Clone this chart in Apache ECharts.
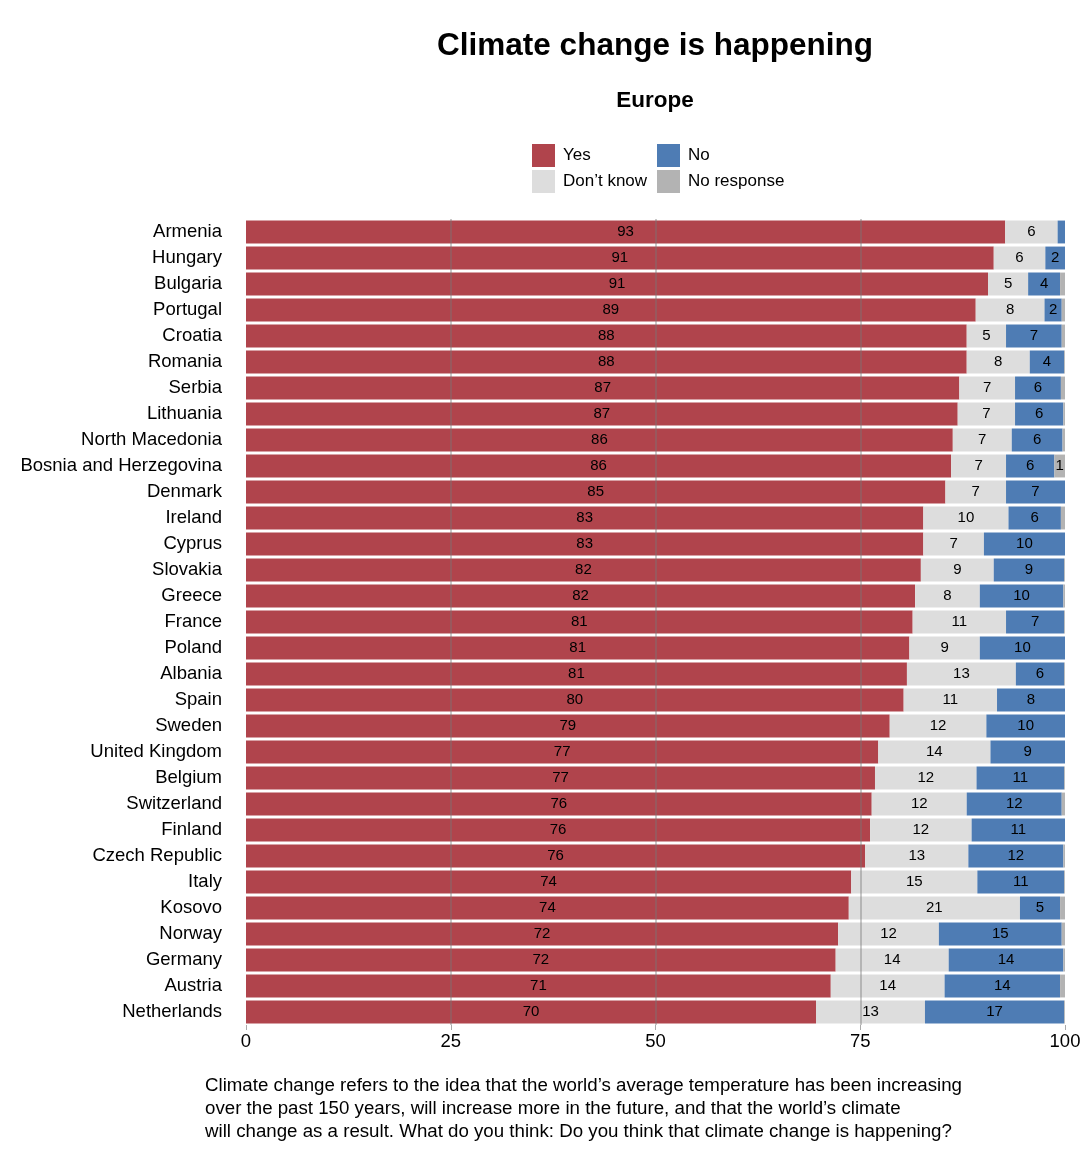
<!DOCTYPE html>
<html>
<head>
<meta charset="utf-8">
<script src="https://cdn.jsdelivr.net/npm/echarts@6/dist/echarts.min.js"></script>
<style>html,body{margin:0;padding:0;background:#fff;}#c{width:1086px;height:1160px;}</style>
</head>
<body>
<div id="c"></div>
<script>
const countries = ["Armenia","Hungary","Bulgaria","Portugal","Croatia","Romania","Serbia","Lithuania","North Macedonia","Bosnia and Herzegovina","Denmark","Ireland","Cyprus","Slovakia","Greece","France","Poland","Albania","Spain","Sweden","United Kingdom","Belgium","Switzerland","Finland","Czech Republic","Italy","Kosovo","Norway","Germany","Austria","Netherlands"];
const yes = [92.7,91.3,90.6,89.1,88.0,88.0,87.1,86.9,86.3,86.1,85.4,82.7,82.7,82.4,81.7,81.4,81.0,80.7,80.3,78.6,77.2,76.8,76.4,76.2,75.6,73.9,73.6,72.3,72.0,71.4,69.6];
const dontKnow = [6.4,6.3,4.9,8.4,4.8,7.7,6.8,7.0,7.2,6.7,7.4,10.4,7.4,8.9,7.9,11.4,8.6,13.3,11.4,11.8,13.7,12.4,11.6,12.4,12.6,15.4,20.9,12.3,13.8,13.9,13.3];
const no = [0.9,2.4,3.9,2.1,6.8,4.2,5.6,5.9,6.2,5.9,7.2,6.4,9.9,8.6,10.2,7.1,10.4,5.9,8.3,9.6,9.1,10.7,11.6,11.4,11.6,10.6,4.9,15.0,14.0,14.1,17.0];
const noResponse = [0,0,0.6,0.4,0.4,0.1,0.5,0.2,0.3,1.3,0,0.5,0,0.1,0.2,0.1,0,0.1,0,0,0,0.1,0.4,0,0.2,0.1,0.6,0.4,0.2,0.6,0.1];
const xTicks = [0,25,50,75,100];
const footnote = [
  "Climate change refers to the idea that the world\u2019s average temperature has been increasing",
  "over the past 150 years, will increase more in the future, and that the world\u2019s climate",
  "will change as a result. What do you think: Do you think that climate change is happening?"
];

const FONT = "'Liberation Sans', Arial, Helvetica, sans-serif";
const chart = echarts.init(document.getElementById('c'), null, {renderer:'canvas'});

function mkSeries(name, data, color, extra) {
  return Object.assign({
    name: name,
    type: 'bar',
    stack: 'total',
    data: data,
    barCategoryGap: '12%',
    itemStyle: {color: color},
    emphasis: {disabled: true},
    label: {
      show: true,
      position: 'inside',
      color: '#000',
      fontSize: 15,
      fontFamily: FONT,
      formatter: p => (p.value >= 1 ? String(Math.round(p.value)) : '')
    }
  }, extra || {});
}

const option = {
  animation: false,
  textStyle: {fontFamily: FONT},
  grid: {left: 246, right: 21, top: 219, bottom: 135, containLabel: false},
  legend: [
    {data: ['Yes', 'Don\u2019t know'], orient: 'vertical', left: 527, top: 139, itemGap: 3,
     itemWidth: 23, itemHeight: 23, icon: 'rect', selectedMode: false,
     textStyle: {fontSize: 17, color: '#000', fontFamily: FONT, padding: [2, 0, 0, 3]}},
    {data: ['No', 'No response'], orient: 'vertical', left: 652, top: 139, itemGap: 3,
     itemWidth: 23, itemHeight: 23, icon: 'rect', selectedMode: false,
     textStyle: {fontSize: 17, color: '#000', fontFamily: FONT, padding: [2, 0, 0, 3]}}
  ],
  xAxis: {
    type: 'value', min: 0, max: 100, interval: 25,
    axisLine: {show: false},
    axisTick: {show: true, length: 5, lineStyle: {color: '#aaa'}},
    splitLine: {show: false},
    axisLabel: {fontSize: 18.5, color: '#000', margin: 7, fontFamily: FONT,
      formatter: v => (xTicks.indexOf(v) >= 0 ? String(v) : '')}
  },
  yAxis: {
    type: 'category', data: countries, inverse: true,
    axisLine: {show: false}, axisTick: {show: false},
    axisLabel: {fontSize: 18.5, color: '#000', margin: 24, fontFamily: FONT, padding: [3, 0, 0, 0]}
  },
  series: [
    mkSeries('Yes', yes, '#b0444c'),
    mkSeries('Don\u2019t know', dontKnow, '#dddddd'),
    mkSeries('No', no, '#4e7cb4'),
    mkSeries('No response', noResponse, '#b3b3b3', {
      markLine: {
        silent: true, symbol: ['none','none'], z: 10,
        label: {show: false},
        lineStyle: {color: 'rgba(120,120,120,0.4)', width: 2, type: 'solid'},
        data: [{xAxis: 25}, {xAxis: 50}, {xAxis: 75}]
      }
    })
  ],
  graphic: [
    {type: 'text', x: 655, y: 46, style: {text: 'Climate change is happening', fontSize: 31.5, fontWeight: 'bold', fontFamily: FONT, fill: '#000', align: 'center', verticalAlign: 'middle', textAlign: 'center', textVerticalAlign: 'middle'}},
    {type: 'text', x: 655, y: 101, style: {text: 'Europe', fontSize: 22.5, fontWeight: 'bold', fontFamily: FONT, fill: '#000', align: 'center', verticalAlign: 'middle', textAlign: 'center', textVerticalAlign: 'middle'}}
  ].concat(footnote.map((t, i) => ({
    type: 'text', x: 205, y: 1086 + i * 23,
    style: {text: t, fontSize: 18.7, fontFamily: FONT, fill: '#000', align: 'left', verticalAlign: 'middle', textAlign: 'left', textVerticalAlign: 'middle'}
  })))
};
chart.setOption(option);
</script>
</body>
</html>
